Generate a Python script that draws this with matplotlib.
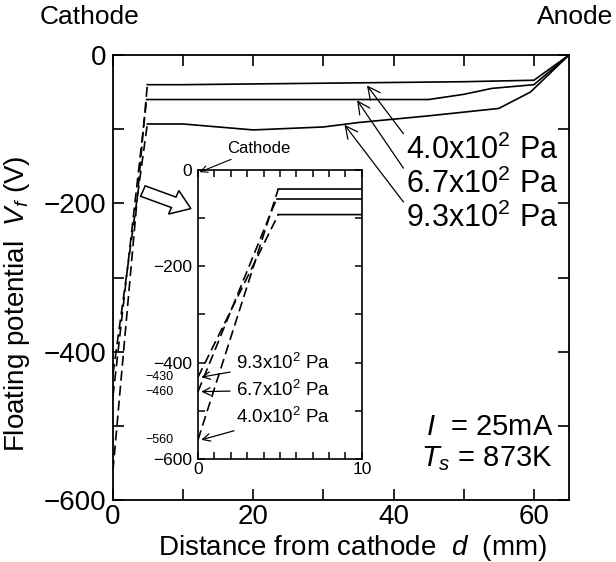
import numpy as np
import matplotlib
matplotlib.use('Agg')
import matplotlib.pyplot as plt
from matplotlib.ticker import MultipleLocator, FuncFormatter
from matplotlib.patches import FancyArrow

plt.rcParams['font.family'] = ['Liberation Sans', 'DejaVu Sans']
plt.rcParams['mathtext.fontset'] = 'custom'
plt.rcParams['mathtext.rm'] = 'Liberation Sans'
plt.rcParams['mathtext.it'] = 'Liberation Sans:italic'

# data: distance (mm) and floating potential (V)
labels = ['4.0x10$^2$ Pa', '6.7x10$^2$ Pa', '9.3x10$^2$ Pa']

d_40 = [0, 4.9, 10, 20, 30, 40, 50, 55, 60, 65]
vf_40 = [-560, -40, -40, -39, -38, -37, -36, -35, -34, 0]

d_67 = [0, 4.8, 10, 20, 30, 40, 45, 50, 54, 60, 65]
vf_67 = [-460, -60, -60, -60, -60, -60, -60, -53, -45, -40, 0]

d_93 = [0, 4.9, 10, 20, 30, 35, 45, 55, 59.5, 65]
vf_93 = [-430, -93, -93, -101, -97, -91, -82, -72, -50, 0]

series = [(d_40, vf_40), (d_67, vf_67), (d_93, vf_93)]

cathode_marks = [-430, -460, -560]

fig = plt.figure(figsize=(6.16, 5.62), dpi=100)
ax = fig.add_axes([0.1834, 0.1103, 0.7403, 0.7918])

# main plot: dashed near the cathode, solid in the column
for d, v in series:
    ax.plot(d[:2], v[:2], color='black', lw=1.2, ls=(0, (6, 3)))
    ax.plot(d[1:], v[1:], color='black', lw=1.2)

ax.set_xlim(0, 65)
ax.set_ylim(-600, 0)
ax.xaxis.set_major_locator(MultipleLocator(10))
ax.yaxis.set_major_locator(MultipleLocator(100))
ax.xaxis.set_major_formatter(FuncFormatter(lambda v, p: '%d' % v if int(round(v)) % 20 == 0 else ''))
ax.yaxis.set_major_formatter(FuncFormatter(lambda v, p: ('%d' % v).replace('-', '\u2212') if int(round(v)) % 200 == 0 else ''))
ax.tick_params(direction='in', top=True, right=True, length=8, width=1.2, labelsize=20, pad=3)
ax.tick_params(axis='y', pad=5)
for s in ax.spines.values():
    s.set_linewidth(1.3)

ax.set_xlabel('Distance from cathode  $d$  (mm)', fontsize=20, labelpad=0)
ax.xaxis.set_label_coords(0.525, -0.075)
ax.set_ylabel('Floating potential  $V_f$ (V)', fontsize=20, labelpad=2)
ax.yaxis.set_label_coords(-0.178, 0.44)

fig.text(0.065, 0.97, 'Cathode', fontsize=19, va='center', ha='left')
fig.text(0.995, 0.97, 'Anode', fontsize=19, va='center', ha='right')

# pressure labels with arrows
tips = [(36.2, -41), (34.8, -61), (33.0, -94)]
text_y = [-128, -175, -220]
for lab, tip, ty in zip(labels, tips, text_y):
    ax.annotate(lab, xy=tip, xytext=(41.8, ty), fontsize=22, va='center', ha='left',
                arrowprops=dict(arrowstyle='->', color='black', lw=0.9,
                                shrinkA=0, shrinkB=0, relpos=(0, 0.9)))

ax.text(0.965, 0.165, '$I$  = 25mA', transform=ax.transAxes, fontsize=21, ha='right', va='center')
ax.text(0.965, 0.093, '$T_s$ = 873K', transform=ax.transAxes, fontsize=21, ha='right', va='center')

# hollow arrow pointing at the inset
fig.patches.append(FancyArrow(0.232, 0.66, 0.05, -0.02, width=0.02, head_width=0.045,
                              head_length=0.03, transform=fig.transFigure,
                              facecolor='white', edgecolor='black', lw=1.1))

# inset: cathode region
ax2 = fig.add_axes([0.3214, 0.183, 0.266, 0.515])
for d, v in series:
    ax2.plot(d[:2], v[:2], color='black', lw=1.2, ls=(0, (6, 3)))
    ax2.plot(d[1:], v[1:], color='black', lw=1.2)
ax2.set_xlim(0, 10)
ax2.set_ylim(-600, 0)
ax2.xaxis.set_major_locator(MultipleLocator(1))
ax2.yaxis.set_major_locator(MultipleLocator(100))
ax2.xaxis.set_major_formatter(FuncFormatter(lambda v, p: '%d' % v if int(round(v)) % 10 == 0 else ''))
ax2.yaxis.set_major_formatter(FuncFormatter(lambda v, p: ('%d' % v).replace('-', '\u2212') if int(round(v)) % 200 == 0 else ''))
ax2.tick_params(direction='in', top=True, right=True, length=5, width=1.1, labelsize=12.5, pad=2)
ax2.tick_params(axis='y', pad=4)
for s in ax2.spines.values():
    s.set_linewidth(1.2)

for m in cathode_marks:
    ax2.text(-0.15, m, ('%d' % m).replace('-', '\u2212'), fontsize=9, ha='right', va='center',
             transform=ax2.get_yaxis_transform())

inset_text_y = [-400, -457, -513]
inset_tips = [(0.2, -430), (0.2, -460), (0.2, -560)]
for lab, tip, ty in zip(labels[::-1], inset_tips, inset_text_y):
    ax2.annotate(lab, xy=tip, xytext=(2.3, ty), fontsize=13.5, va='center', ha='left',
                 arrowprops=dict(arrowstyle='->', color='black', lw=0.9,
                                 shrinkA=2, shrinkB=0))

ax2.annotate('Cathode', xy=(0.1, -5), xytext=(1.8, 45), fontsize=12, va='center', ha='left',
             annotation_clip=False,
             arrowprops=dict(arrowstyle='->', color='black', lw=0.8, shrinkA=2, shrinkB=0))

fig.savefig('out.png', dpi=100)
